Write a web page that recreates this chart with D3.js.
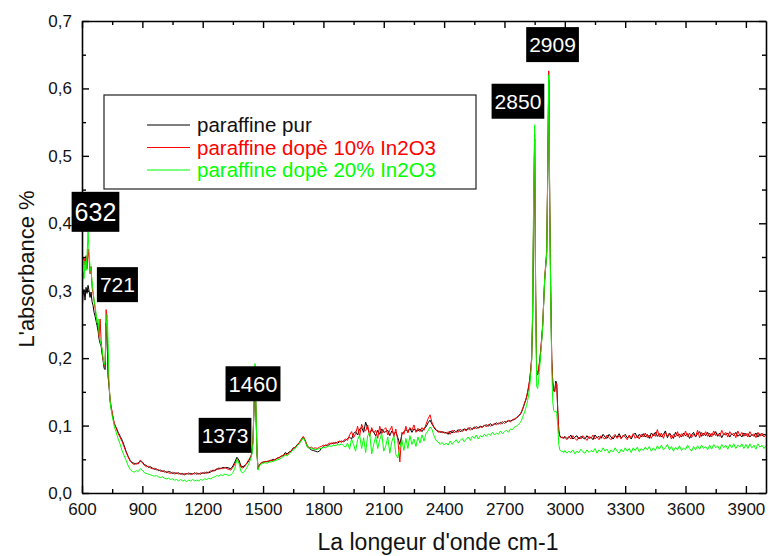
<!DOCTYPE html>
<html>
<head>
<meta charset="utf-8">
<script src="https://cdn.jsdelivr.net/npm/d3@7"></script>
<style>
  body { margin: 0; background: #fff; }
  svg { display: block; font-family: "Liberation Sans", Arial, sans-serif; }
  .axis path, .axis line { stroke: #000; }
  .axis .domain { stroke-width: 1.6; }
  .axis .tick line { stroke-width: 1.4; }
</style>
</head>
<body>
<div id="chart"></div>
<script>
// sampling grid of the spectra: [start, end, step] in cm-1, one entry per block of values
const segments = [[600, 760, 5], [770, 1440, 10], [1445, 1500, 5], [1510, 2780, 10], [2785, 2995, 5], [3000, 4000, 10]];

// absorbance, one sub-array per segment
const pur = [
  [.268,.292,.302,.286,.305,.296,.308,.300,.290,.298,.284,.278,.268,.262,.255,.248,.240,.228,.222,.218,.206,.196,.185,.183,.252,.225,.172,.156,.136,.126,.118,.110,.103],
  [.097,.090,.084,.078,.070,.061,.054,.048,.045,.044, .043,.045,.047,.046,.042,.041,.038,.039,.037,.035,
   .036,.033,.034,.032,.033,.030,.032,.031,.029,.030, .029,.030,.028,.029,.027,.029,.028,.029,.028,.030,
   .028,.029,.028,.030,.029,.031,.030,.031,.034,.033, .035,.037,.036,.038,.037,.038,.037,.036,.040,.046,
   .053,.049,.040,.039,.041,.044,.048,.054],
  [.060,.078,.125,.175,.118,.058,.036,.041,.042,.044,.045,.046],
  [.046,.047,.047,.048,.050,.049,.052,.052,.055,.055, .060,.058,.061,.062,.067,.067,.072,.074,.078,.083,
   .077,.069,.066,.064,.063,.062,.061,.062,.066,.069, .071,.070,.072,.074,.073,.075,.074,.076,.077,.076,
   .078,.081,.083,.080,.088,.091,.086,.095,.097,.090, .105,.096,.088,.094,.090,.085,.093,.087,.095,.090,
   .091,.093,.085,.092,.088,.090,.082,.072,.087,.091, .094,.091,.096,.090,.095,.093,.092,.095,.091,.096,
   .098,.104,.108,.102,.097,.093,.092,.090,.091,.089, .090,.087,.092,.089,.093,.090,.094,.091,.093,.095,
   .094,.095,.097,.094,.098,.096,.097,.099,.098,.100, .101,.099,.103,.100,.102,.104,.102,.105,.103,.106,
   .105,.107,.107,.108,.109,.111,.114,.117],
  [.120,.124,.128,.133,.137,.142,.149,.157,.166,.180,.198,.258,.410,.525,.295,.178,.175,.184,.194,.210,.228,.248,
   .282,.316,.336,.355,.470,.612,.425,.296,.198,.164,.151,.152,.166,.162,.122,.093,.085,.083,.082,.083,.081],
  [.084,.081,.082,.086,.080,.083,.085,.080,.084,.082, .080,.085,.081,.083,.079,.086,.082,.084,.081,.087,
   .083,.081,.087,.083,.080,.085,.083,.088,.082,.084, .087,.082,.084,.080,.086,.089,.082,.087,.083,.088,
   .083,.087,.081,.089,.085,.090,.084,.088,.083,.087, .092,.082,.089,.085,.081,.090,.085,.087,.083,.089,
   .085,.088,.081,.086,.090,.083,.088,.091,.084,.089, .085,.090,.083,.088,.086,.091,.084,.089,.082,.088,
   .086,.089,.083,.088,.085,.090,.084,.087,.083,.089, .085,.088,.083,.087,.084,.089,.083,.088,.085,.087,
   .086]
];

const dope10 = [
  [.300,.345,.350,.338,.352,.332,.362,.348,.325,.336,.305,.296,.285,.274,.262,.255,.245,.232,.258,.226,.210,.198,.192,.188,.272,.230,.175,.158,.138,.128,.120,.112,.104],
  [.096,.088,.082,.076,.068,.060,.053,.047,.044,.042, .044,.043,.049,.045,.041,.039,.040,.037,.036,.037,
   .034,.035,.032,.033,.031,.032,.030,.029,.031,.028, .030,.028,.029,.027,.029,.028,.030,.027,.029,.028,
   .030,.028,.030,.029,.031,.029,.031,.033,.032,.034, .036,.035,.037,.036,.038,.036,.035,.034,.038,.043,
   .050,.046,.038,.037,.040,.045,.050,.055],
  [.062,.080,.130,.178,.120,.060,.035,.040,.043,.045,.046,.045],
  [.047,.046,.048,.049,.048,.050,.051,.053,.054,.056, .058,.057,.060,.063,.066,.068,.071,.075,.080,.084,
   .078,.070,.067,.068,.066,.067,.066,.068,.069,.071, .070,.072,.074,.073,.075,.073,.076,.077,.075,.078,
   .080,.078,.086,.091,.082,.088,.099,.084,.102,.094, .092,.101,.084,.097,.089,.093,.081,.099,.088,.094,
   .097,.086,.093,.099,.083,.095,.078,.046,.090,.087, .099,.089,.097,.093,.101,.090,.096,.091,.097,.093,
   .102,.110,.116,.104,.098,.094,.090,.092,.089,.091, .088,.091,.087,.093,.089,.092,.090,.095,.091,.094,
   .092,.097,.093,.096,.095,.099,.096,.098,.097,.101, .098,.102,.099,.101,.103,.101,.104,.102,.106,.103,
   .106,.108,.105,.109,.110,.112,.115,.118],
  [.121,.125,.129,.134,.138,.143,.150,.158,.168,.182,.200,.265,.420,.532,.300,.180,.176,.186,.196,.212,.230,.250,
   .285,.320,.340,.360,.480,.626,.430,.300,.200,.165,.152,.150,.163,.160,.120,.092,.084,.082,.083,.081,.082],
  [.083,.079,.084,.080,.085,.081,.078,.083,.080,.085, .082,.078,.084,.081,.086,.080,.083,.079,.085,.082,
   .080,.086,.082,.079,.084,.087,.081,.085,.080,.086, .083,.079,.086,.082,.088,.081,.085,.080,.087,.083,
   .089,.082,.086,.081,.088,.084,.094,.083,.089,.081, .090,.084,.088,.080,.087,.083,.091,.082,.088,.084,
   .092,.083,.089,.082,.087,.084,.093,.082,.090,.085, .091,.084,.089,.083,.092,.085,.088,.084,.093,.086,
   .090,.083,.091,.086,.089,.082,.092,.085,.090,.084, .089,.083,.091,.085,.088,.082,.090,.084,.089,.083,
   .087]
];

const dope20 = [
  [.292,.328,.318,.344,.330,.352,.387,.360,.335,.328,.315,.300,.286,.278,.266,.252,.258,.236,.226,.220,.214,.200,.190,.195,.245,.265,.222,.160,.135,.124,.114,.108,.099],
  [.090,.080,.072,.062,.055,.048,.040,.035,.032,.031, .033,.032,.036,.034,.030,.029,.028,.027,.026,.025,
   .026,.024,.023,.024,.022,.021,.022,.020,.021,.019, .020,.018,.020,.018,.019,.017,.019,.018,.020,.018,
   .019,.018,.020,.019,.021,.020,.022,.021,.023,.024, .026,.025,.027,.026,.028,.027,.026,.027,.030,.037,
   .050,.044,.032,.030,.033,.038,.044,.052],
  [.058,.074,.135,.192,.125,.058,.034,.038,.041,.043,.044,.044],
  [.045,.044,.046,.046,.047,.048,.049,.050,.052,.054, .056,.055,.058,.061,.064,.066,.070,.073,.078,.082,
   .076,.068,.066,.067,.065,.064,.065,.066,.066,.068, .067,.069,.070,.069,.071,.070,.072,.071,.073,.070,
   .068,.074,.065,.080,.072,.062,.079,.086,.066,.082, .060,.085,.090,.058,.072,.084,.066,.079,.088,.062,
   .070,.083,.059,.076,.085,.057,.052,.068,.079,.063, .081,.066,.085,.072,.080,.069,.083,.074,.086,.077,
   .088,.092,.098,.094,.085,.078,.076,.072,.075,.071, .074,.071,.077,.072,.076,.079,.074,.078,.081,.076,
   .080,.083,.078,.084,.081,.086,.080,.085,.083,.087, .084,.088,.085,.090,.086,.089,.087,.092,.088,.091,
   .093,.090,.095,.094,.098,.099,.102,.105],
  [.108,.112,.116,.120,.125,.130,.137,.145,.157,.172,.196,.275,.440,.546,.290,.158,.155,.168,.186,.205,.225,.246,
   .282,.318,.336,.355,.470,.620,.420,.290,.185,.135,.122,.120,.122,.118,.098,.072,.064,.062,.061,.062,.060],
  [.063,.059,.062,.060,.064,.058,.062,.060,.065,.061, .059,.064,.060,.063,.061,.066,.059,.064,.061,.067,
   .062,.065,.059,.064,.061,.067,.062,.059,.065,.061, .067,.062,.066,.060,.067,.063,.068,.061,.066,.063,
   .068,.064,.069,.062,.067,.063,.070,.065,.071,.064, .067,.072,.064,.069,.062,.068,.064,.070,.063,.067,
   .064,.071,.066,.062,.069,.064,.070,.065,.071,.066, .069,.064,.071,.065,.072,.067,.070,.064,.072,.067,
   .071,.065,.072,.067,.073,.066,.071,.068,.073,.066, .072,.066,.073,.067,.071,.065,.073,.068,.071,.066,
   .070]
];

const seriesNames = ["paraffine pur", "paraffine dopè 10% In2O3", "paraffine dopè 20% In2O3"];
const seriesColors = ["#000000", "#ff0000", "#00ff00"];

// peak labels: text, box centre (cm-1, absorbance), font size
const peakLabels = ["632", "721", "1373", "1460", "2850", "2909"];
const peakBoxX = [667, 776, 1311, 1450, 2767, 2939];
const peakBoxY = [0.417, 0.309, 0.0855, 0.162, 0.581, 0.665];
const peakFont = [25, 21, 21, 22, 21, 21];

const xTicks = [600, 900, 1200, 1500, 1800, 2100, 2400, 2700, 3000, 3300, 3600, 3900];
const yTicks = [0, 0.1, 0.2, 0.3, 0.4, 0.5, 0.6, 0.7];

const width = 769, height = 556;
const margin = { top: 21, right: 3, bottom: 63, left: 82 };
const innerW = width - margin.left - margin.right;
const innerH = height - margin.top - margin.bottom;

const svg = d3.select("#chart").append("svg")
  .attr("width", width).attr("height", height);
const g = svg.append("g").attr("transform", `translate(${margin.left},${margin.top})`);

const x = d3.scaleLinear().domain([600, 4000]).range([0, innerW]);
const y = d3.scaleLinear().domain([0, 0.7]).range([innerH, 0]);

const comma = d3.formatLocale({ decimal: ",", thousands: ".", grouping: [3], currency: ["", ""] }).format(".1f");

function toPoints(vals) {
  return segments.flatMap((s, i) => {
    const xs = d3.range(s[0], s[1] + s[2] / 2, s[2]);
    const v = vals[i];
    return xs.slice(0, v.length).map((w, j) => [w, v[j]]);
  });
}

const series = [pur, dope10, dope20].map((vals, i) => ({
  name: seriesNames[i], color: seriesColors[i], points: toPoints(vals)
}));

// minor + major ticks, all pointing inwards
const minorX = d3.range(750, 4000, 300);
const minorY = [0.05, 0.15, 0.25, 0.35, 0.45, 0.55, 0.65];

function drawAxis(axisFn, scale, major, minor, transform, labels) {
  const gm = g.append("g").attr("class", "axis").attr("transform", transform)
    .call(axisFn(scale).tickValues(minor).tickSize(-4).tickFormat(""));
  gm.select(".domain").remove();
  const ga = g.append("g").attr("class", "axis").attr("transform", transform)
    .call(axisFn(scale).tickValues(major).tickSizeInner(-7).tickSizeOuter(0)
      .tickPadding(labels ? 10 : 0).tickFormat(labels || ""));
  ga.selectAll("text").attr("font-size", 17).attr("fill", "#111");
  return ga;
}

svg.append("clipPath").attr("id", "plot-clip")
  .append("rect").attr("width", innerW).attr("height", innerH);

const line = d3.line().x(d => x(d[0])).y(d => y(d[1]));

g.append("g").attr("clip-path", "url(#plot-clip)")
  .selectAll("path").data(series).join("path")
  .attr("fill", "none")
  .attr("stroke", d => d.color)
  .attr("stroke-width", 1)
  .attr("stroke-linejoin", "round")
  .attr("d", d => line(d.points));

drawAxis(d3.axisBottom, x, xTicks, minorX, `translate(0,${innerH})`, d => d);
drawAxis(d3.axisTop, x, xTicks, minorX, "translate(0,0)", null);
drawAxis(d3.axisLeft, y, yTicks, minorY, "translate(0,0)", comma);
drawAxis(d3.axisRight, y, yTicks, minorY, `translate(${innerW},0)`, null);

// axis titles
svg.append("text")
  .attr("x", 438).attr("y", 550)
  .attr("text-anchor", "middle").attr("font-size", 23).attr("fill", "#111")
  .text("La longeur d'onde cm-1");

svg.append("text")
  .attr("transform", "translate(34,269) rotate(-90)")
  .attr("text-anchor", "middle").attr("font-size", 22).attr("fill", "#111")
  .text("L'absorbance %");

// legend
const legend = svg.append("g").attr("transform", "translate(104,95)");
legend.append("rect")
  .attr("width", 372).attr("height", 94)
  .attr("fill", "#fff").attr("stroke", "#222").attr("stroke-width", 1.2);
const rows = legend.selectAll("g.row").data(series).join("g")
  .attr("class", "row")
  .attr("transform", (d, i) => `translate(0,${30 + i * 22.5})`);
rows.append("line")
  .attr("x1", 43).attr("x2", 86)
  .attr("stroke", d => d.color).attr("stroke-width", 1.1);
rows.append("text")
  .attr("x", 93).attr("y", 7)
  .attr("font-size", 20.5)
  .attr("fill", d => d.color === "#000000" ? "#111" : d.color)
  .text(d => d.name);

// peak annotations, white on black
const peaks = peakLabels.map((t, i) => ({ text: t, wn: peakBoxX[i], a: peakBoxY[i], fs: peakFont[i] }));
const pg = g.selectAll("g.peak").data(peaks).join("g")
  .attr("class", "peak")
  .attr("transform", d => `translate(${x(d.wn)},${y(d.a)})`);
pg.append("rect");
pg.append("text")
  .attr("text-anchor", "middle")
  .attr("dy", "0.36em")
  .attr("font-size", d => d.fs)
  .attr("fill", "#fff")
  .text(d => d.text);
pg.each(function(d) {
  const t = d3.select(this).select("text").node().getBBox();
  const h = d.fs > 23 ? 40 : 35;
  d3.select(this).select("rect")
    .attr("x", -t.width / 2 - 3).attr("y", -h / 2)
    .attr("width", t.width + 6).attr("height", h)
    .attr("fill", "#000");
});
</script>
</body>
</html>
